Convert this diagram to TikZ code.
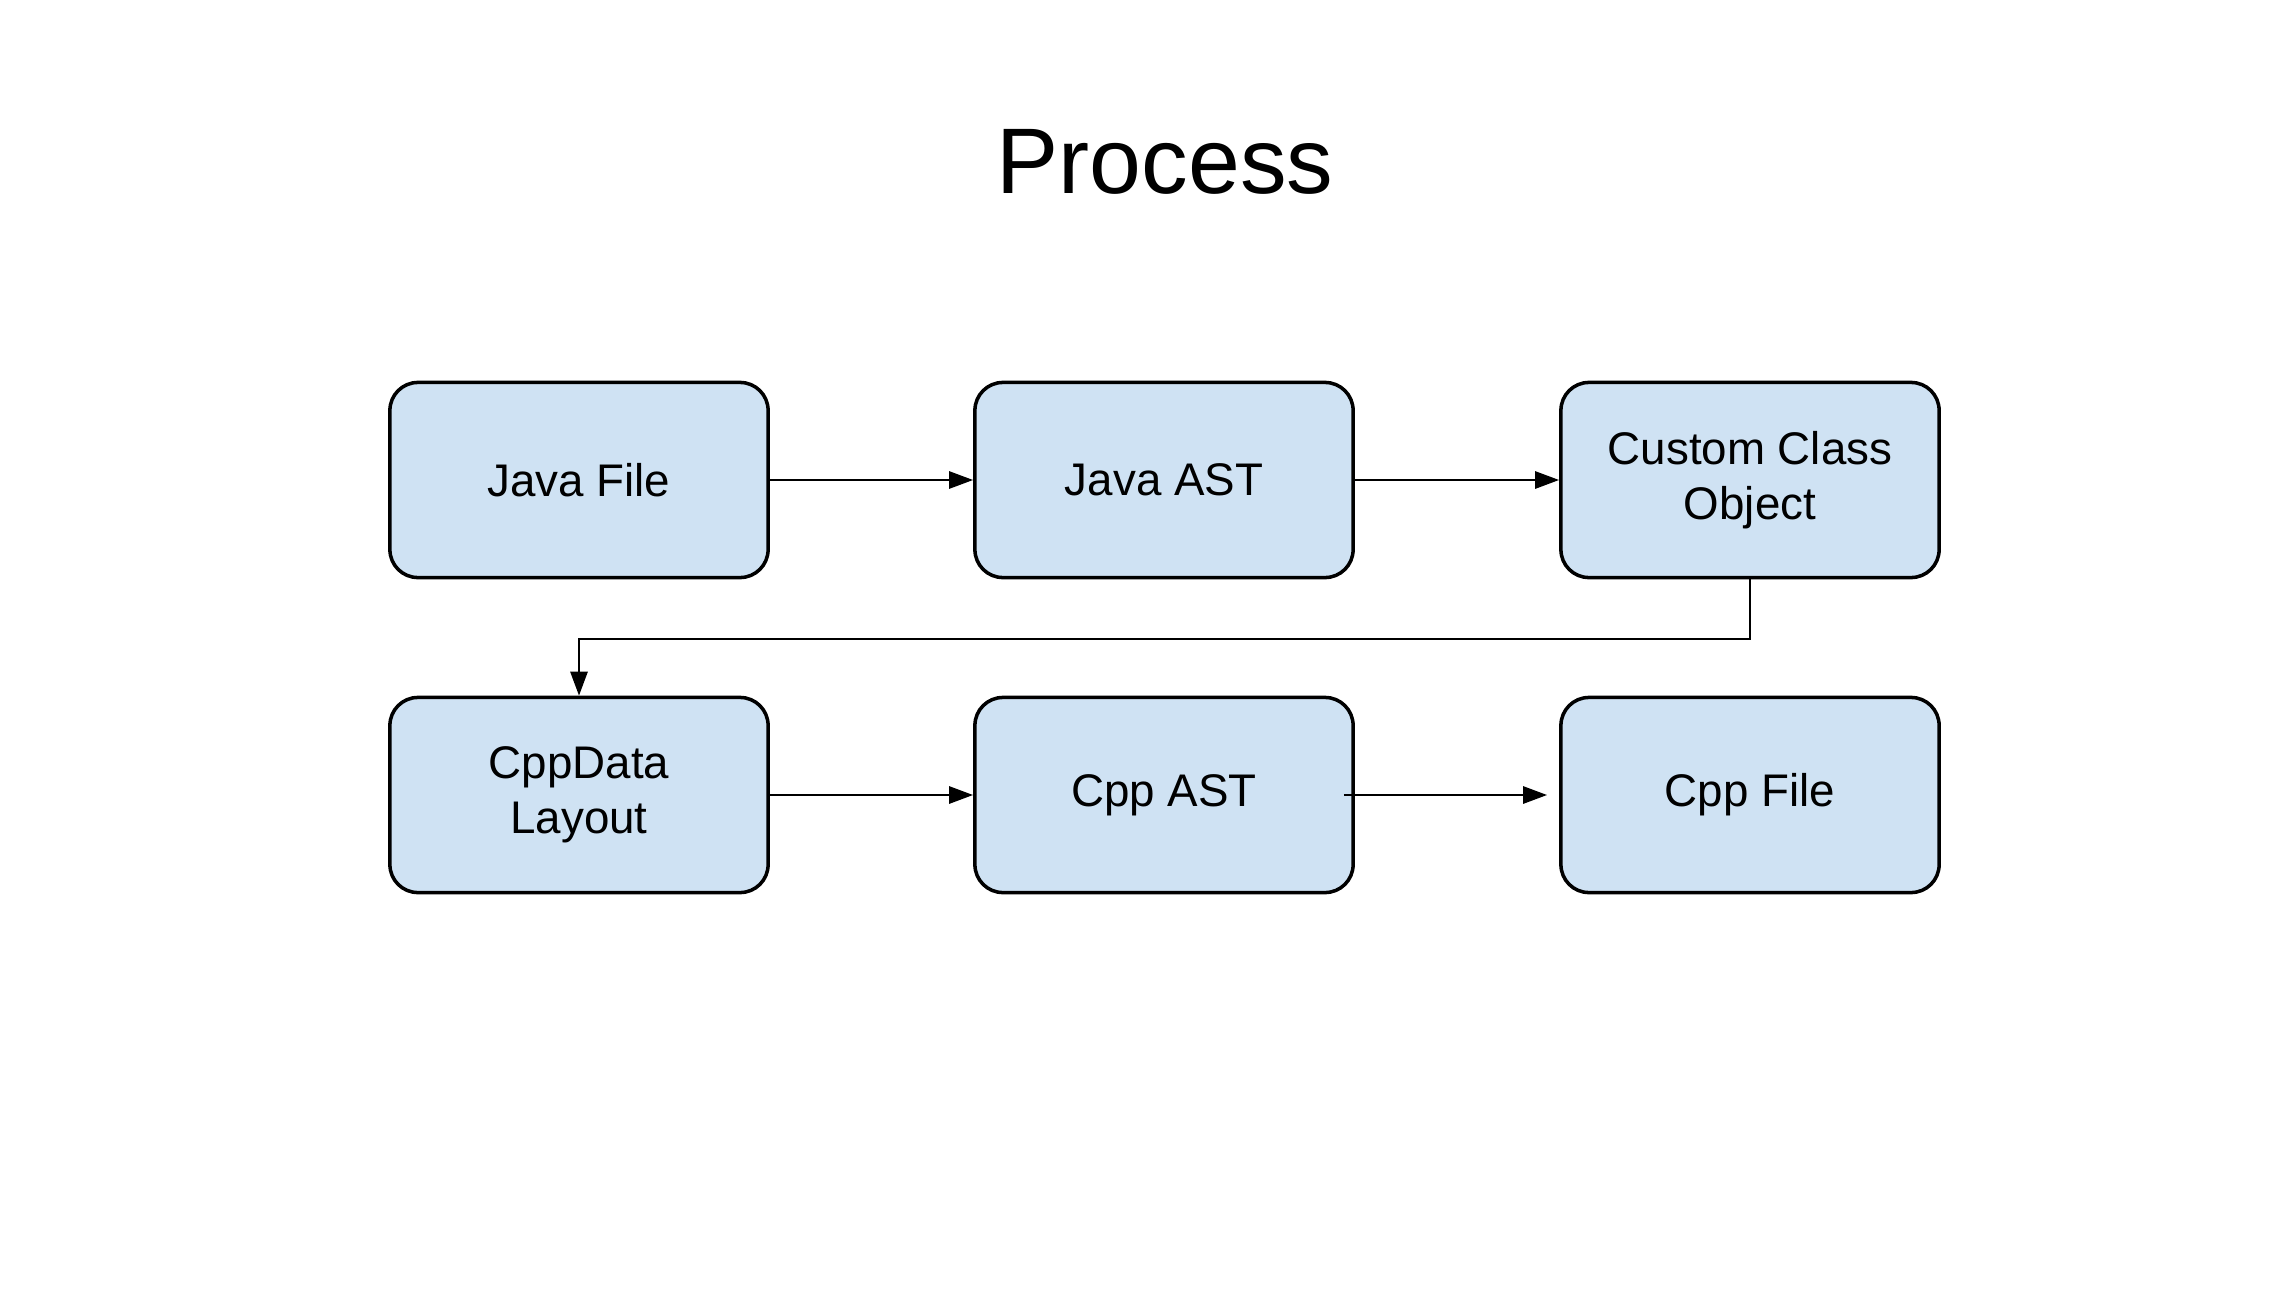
\documentclass[tikz,border=0pt]{standalone}
\usepackage{fontspec}
\setmainfont{Liberation Sans}
\usepackage{tikz}
\usetikzlibrary{arrows.meta,positioning}
\definecolor{boxblue}{HTML}{CFE2F3}

\begin{document}
\begin{tikzpicture}[x=0.01cm, y=-0.01cm, line width=0.8pt, >={Triangle[length=0.24cm,width=0.17cm]}, main node/.style={rectangle,rounded corners=0.28cm,draw,fill=boxblue,line width=1pt,minimum width=3.78cm,minimum height=1.95cm,inner sep=0pt,align=center,font=\fontsize{13}{15.5}\selectfont}]
\useasboundingbox (0,0) rectangle (2292,1288);
\node[font=\fontsize{26.5}{30}\selectfont] (title) at (1165,162) {Process};
\begin{scope}
\node[main node] (javafile) at (579,480) {Java File};
\node[main node] (javaast) at (1164,480) {Java AST};
\node[main node] (custom) at (1750,480) {Custom Class\\Object};
\node[main node] (cppdata) at (579,795) {CppData\\Layout};
\node[main node] (cppast) at (1164,795) {Cpp AST};
\node[main node] (cppfile) at (1750,795) {Cpp File};
\end{scope}
\begin{scope}
\coordinate (bend) at (1750,639);
\draw[->] (javafile) -- (javaast);
\draw[->] (javaast) -- (custom);
\draw[->] (custom.south) -- (bend) -| (cppdata.north);
\draw[->] (cppdata) -- (cppast);
\draw[->,shorten <=-0.11cm,shorten >=0.12cm] (cppast) -- (cppfile);
\end{scope}
\end{tikzpicture}
\end{document}
